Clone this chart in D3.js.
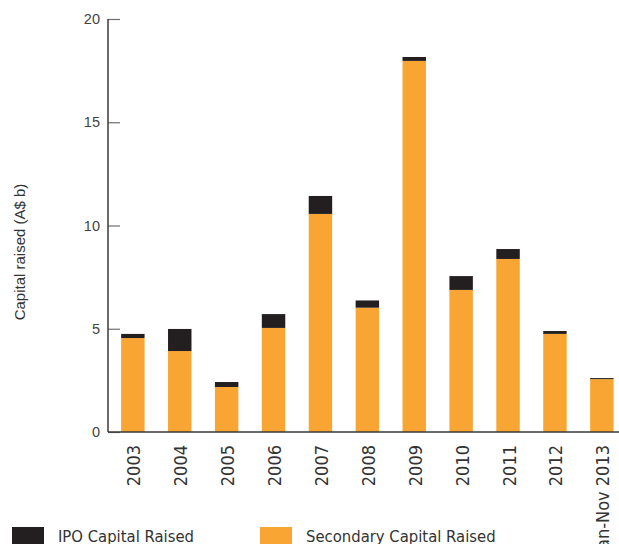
<!DOCTYPE html>
<html>
<head>
<meta charset="utf-8">
<script src="https://cdn.jsdelivr.net/npm/d3@7"></script>
<style>
  html, body { margin: 0; padding: 0; background: #fff; }
  svg { display: block; }
</style>
</head>
<body>
<svg id="chart" width="619" height="544"></svg>
<script>
// ── Data ─────────────────────────────────────────────────────────
const years     = ['2003', '2004', '2005', '2006', '2007', '2008', '2009', '2010', '2011', '2012', 'Jan-Nov 2013'];
const secondary = [4.55, 3.92, 2.18, 5.04, 10.56, 6.02, 17.97, 6.88, 8.38, 4.75, 2.56];
const ipo       = [0.20, 1.07, 0.24, 0.67, 0.87, 0.35, 0.19, 0.67, 0.48, 0.14, 0.05];
const yTicks    = [0, 5, 10, 15, 20];

const seriesKeys   = ['secondary', 'ipo'];
const seriesColors = { secondary: '#f9a533', ipo: '#231f20' };
const legendItems  = [
  { key: 'ipo', label: 'IPO Capital Raised', x: 12 },
  { key: 'secondary', label: 'Secondary Capital Raised', x: 260 },
];

const rows = years.map((y, i) => ({ year: y, secondary: secondary[i], ipo: ipo[i] }));

const condensed = '"DejaVu Sans Condensed", "Liberation Sans Narrow", sans-serif';

// ── Layout ──────────────────────────────────────────────────────
const svg = d3.select('#chart');
const margin = { left: 108, top: 19, bottom: 432 };

const x = d3.scaleBand()
  .domain(years)
  .range([margin.left, 626.7])
  .paddingInner(0.5)
  .paddingOuter(0.28);

const y = d3.scaleLinear()
  .domain([0, 20])
  .range([margin.bottom, margin.top]);

const stacked = d3.stack().keys(seriesKeys)(rows);

// ── Bars ────────────────────────────────────────────────────────
svg.append('g')
  .selectAll('g')
  .data(stacked)
  .join('g')
    .attr('fill', d => seriesColors[d.key])
  .selectAll('rect')
  .data(d => d)
  .join('rect')
    .attr('x', d => x(d.data.year))
    .attr('width', x.bandwidth())
    .attr('y', d => y(d[1]))
    .attr('height', d => y(d[0]) - y(d[1]));

// ── Y axis ──────────────────────────────────────────────────────
const yAxis = svg.append('g')
  .attr('transform', `translate(${margin.left},0)`)
  .call(d3.axisRight(y).tickValues(yTicks).tickSize(12).tickFormat(''));
yAxis.select('.domain').remove();
yAxis.selectAll('.tick line').attr('stroke', '#6d6d6d').attr('stroke-width', 1.2);

svg.append('line')
  .attr('x1', margin.left).attr('x2', margin.left)
  .attr('y1', y(20)).attr('y2', y(0))
  .attr('stroke', '#3a3a3a').attr('stroke-width', 1.5);

svg.append('g')
  .selectAll('text')
  .data(yTicks)
  .join('text')
    .attr('x', 100)
    .attr('y', d => y(d))
    .attr('dy', '0.36em')
    .attr('text-anchor', 'end')
    .attr('font-family', '"Liberation Sans", Arial, sans-serif')
    .attr('font-size', 14.5)
    .attr('fill', '#444')
    .text(d => d);

svg.append('text')
  .attr('transform', `translate(25,252) rotate(-90)`)
  .attr('text-anchor', 'middle')
  .attr('font-family', '"Liberation Sans", Arial, sans-serif')
  .attr('font-size', 15)
  .attr('fill', '#333')
  .text('Capital raised (A$ b)');

// ── X axis ──────────────────────────────────────────────────────
svg.append('line')
  .attr('x1', margin.left).attr('x2', 619)
  .attr('y1', y(0)).attr('y2', y(0))
  .attr('stroke', '#3a3a3a').attr('stroke-width', 1.5);

svg.append('g')
  .selectAll('text')
  .data(years)
  .join('text')
    .attr('transform', d => `translate(${x(d) + x.bandwidth() / 2 + 1},445) rotate(-90)`)
    .attr('dy', '0.36em')
    .attr('text-anchor', 'end')
    .attr('font-family', condensed)
    .attr('font-size', 18)
    .attr('fill', '#333')
    .text(d => d);

// ── Legend ──────────────────────────────────────────────────────
const legend = svg.append('g')
  .selectAll('g')
  .data(legendItems)
  .join('g')
    .attr('transform', d => `translate(${d.x},527)`);

legend.append('rect')
  .attr('width', 32).attr('height', 17)
  .attr('fill', d => seriesColors[d.key]);

legend.append('text')
  .attr('x', 46).attr('y', 15)
  .attr('font-family', condensed)
  .attr('font-size', 16.5)
  .attr('fill', '#333')
  .text(d => d.label);
</script>
</body>
</html>
